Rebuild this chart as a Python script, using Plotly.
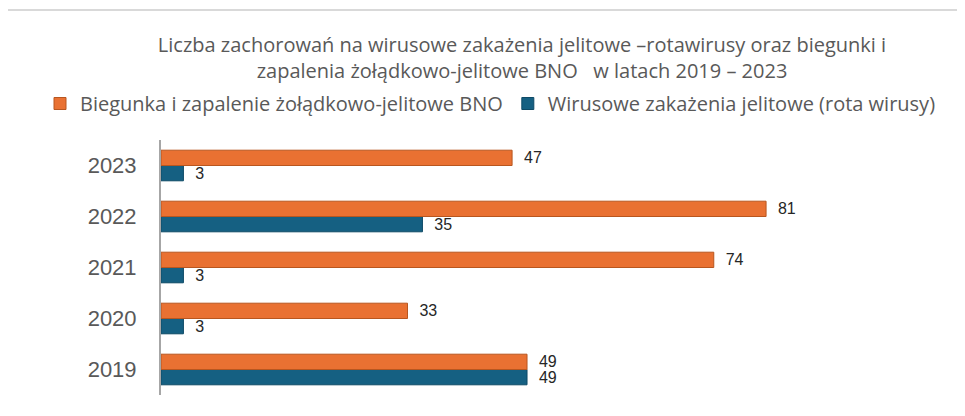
import plotly.graph_objects as go

years = ["2019", "2020", "2021", "2022", "2023"]
biegunka = [49, 33, 74, 81, 47]
rota = [49, 3, 3, 35, 3]

name_b = "Biegunka i zapalenie żołądkowo-jelitowe BNO"
name_r = "Wirusowe zakażenia jelitowe (rota wirusy)"
title_text = ("Liczba zachorowań na wirusowe zakażenia jelitowe –rotawirusy oraz biegunki i"
              "<br>zapalenia żołądkowo-jelitowe BNO   w latach 2019 – 2023")

W, H = 965, 416
L, R, T, B = 153, 65, 132, 29
pw, ph = W - L - R, H - T - B

TXT_FONT = "Open Sans, Noto Sans, sans-serif"
NUM_FONT = "Arial, Liberation Sans, sans-serif"

def px2paper_x(px):
    return (px - L) / pw

def px2paper_y(py):
    return (H - B - py) / ph

fig = go.Figure()
fig.add_trace(go.Bar(
    y=years, x=rota, orientation="h", name=name_r,
    marker=dict(color="#156082", line=dict(color="#0E4A66", width=1)),
    text=rota, texttemplate="  %{x}", textposition="outside", cliponaxis=False,
    constraintext="none",
    textfont=dict(family=NUM_FONT, size=16, color="#262626"),
    legendrank=2,
))
fig.add_trace(go.Bar(
    y=years, x=biegunka, orientation="h", name=name_b,
    marker=dict(color="#E97132", line=dict(color="#B8561F", width=1)),
    text=biegunka, texttemplate="  %{x}", textposition="outside", cliponaxis=False,
    constraintext="none",
    textfont=dict(family=NUM_FONT, size=16, color="#262626"),
    legendrank=1,
))

fig.update_layout(
    width=W, height=H,
    margin=dict(l=L, r=R, t=T, b=B, autoexpand=False),
    paper_bgcolor="white", plot_bgcolor="white",
    barmode="group", bargap=0.4, bargroupgap=0,
    title=dict(text=title_text, x=514 / W, xanchor="center", xref="container",
               y=1 - 44 / H, yanchor="top", yref="container",
               font=dict(family=TXT_FONT, size=20, color="#595959")),
    legend=dict(orientation="h", x=px2paper_x(32), xanchor="left",
                y=px2paper_y(76), yanchor="top",
                font=dict(family=TXT_FONT, size=20, color="#595959"),
                itemwidth=30, traceorder="normal"),
    xaxis=dict(range=[0, 100], showgrid=False, showticklabels=False, zeroline=False,
               showline=False, ticks=""),
    yaxis=dict(showline=True, linecolor="#A6A6A6", linewidth=2, ticks="",
               tickfont=dict(family=NUM_FONT, size=22, color="#595959"),
               ticklabelstandoff=18, showgrid=False),
    shapes=[
        dict(type="line", xref="paper", yref="paper",
             x0=px2paper_x(-3), x1=px2paper_x(970), y0=px2paper_y(2), y1=px2paper_y(2),
             line=dict(color="#D9D9D9", width=2)),
        dict(type="line", xref="paper", yref="paper",
             x0=px2paper_x(-3), x1=px2paper_x(-3), y0=px2paper_y(2), y1=px2paper_y(420),
             line=dict(color="#D9D9D9", width=2)),
    ],
)

fig.write_html("out.html")
